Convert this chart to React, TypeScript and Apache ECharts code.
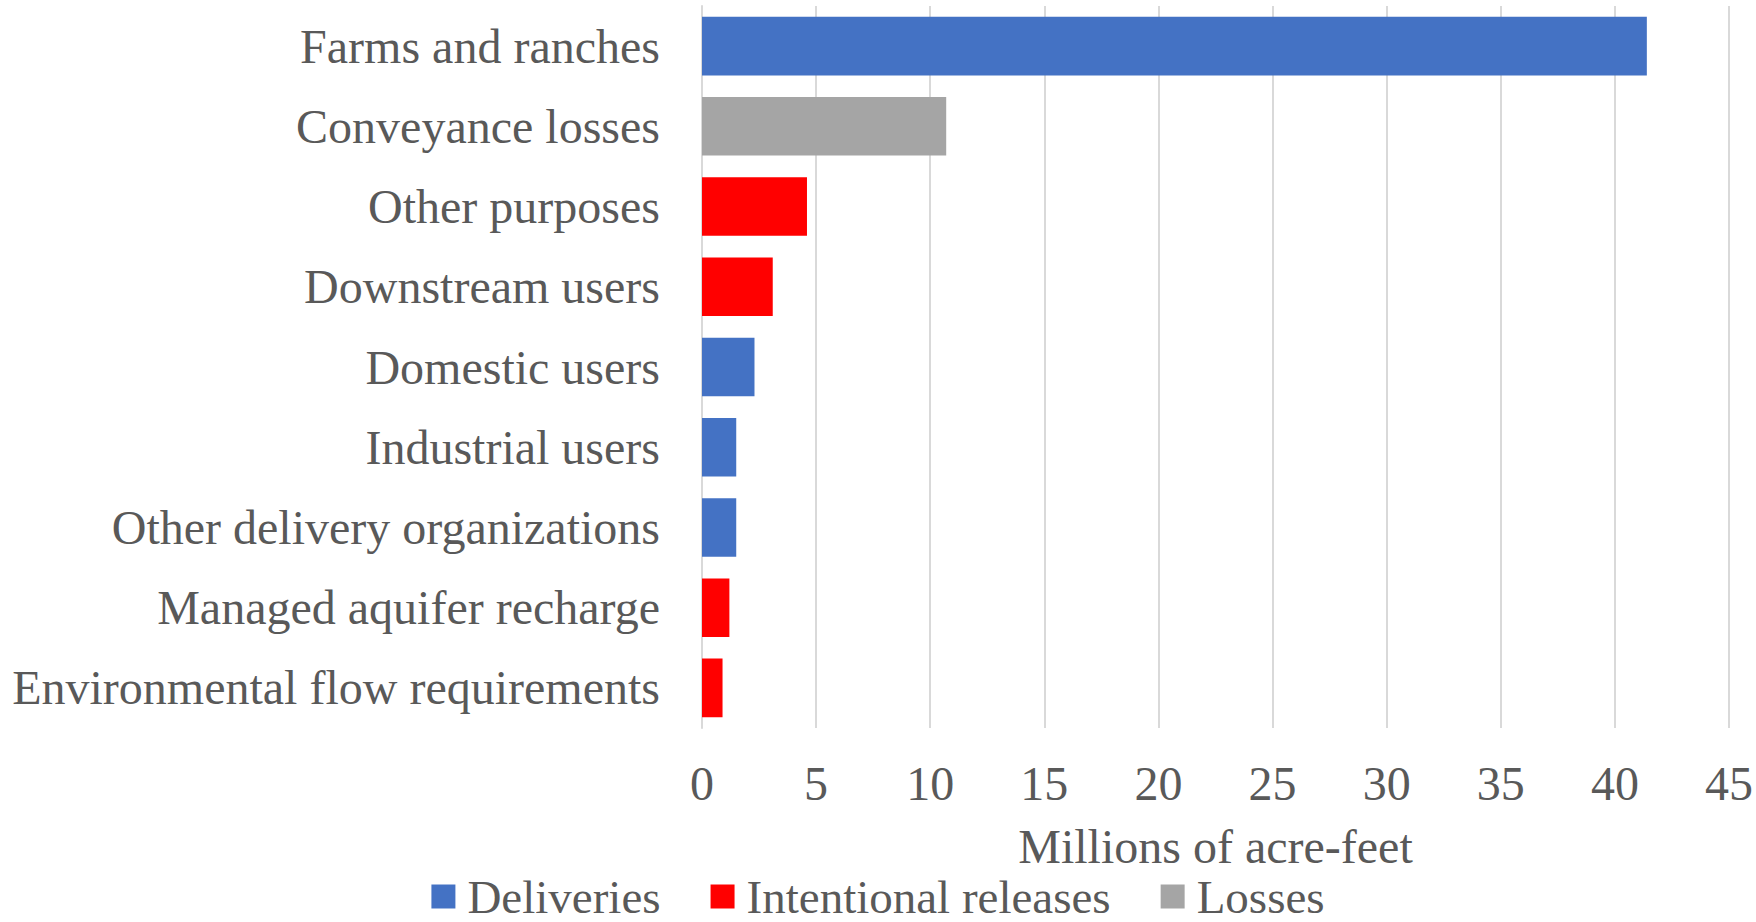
import React, { useEffect, useRef } from "react";
import * as echarts from "echarts";

const categories = [
  "Farms and ranches",
  "Conveyance losses",
  "Other purposes",
  "Downstream users",
  "Domestic users",
  "Industrial users",
  "Other delivery organizations",
  "Managed aquifer recharge",
  "Environmental flow requirements",
];

const seriesNames = ["Deliveries", "Intentional releases", "Losses"];

// value per category, "-" where the category belongs to another series
const deliveries = [41.4, "-", "-", "-", 2.3, 1.5, 1.5, "-", "-"];
const intentionalReleases = ["-", "-", 4.6, 3.1, "-", "-", "-", 1.2, 0.9];
const losses = ["-", 10.7, "-", "-", "-", "-", "-", "-", "-"];

const xTicks = { min: 0, max: 45, interval: 5 };

const colors = ["#4472C4", "#FF0000", "#A5A5A5"];

export default function App() {
  const ref = useRef<HTMLDivElement>(null);

  useEffect(() => {
    document.body.style.margin = "0";
    if (!ref.current) return;
    const chart = echarts.init(ref.current, undefined, { renderer: "svg" });
    const font = "'Liberation Serif', 'Times New Roman', serif";
    const dataSets = [deliveries, intentionalReleases, losses];
    chart.setOption({
      animation: false,
      backgroundColor: "#ffffff",
      textStyle: { fontFamily: font },
      grid: { left: 702, right: 26, top: 6, bottom: 194, containLabel: false },
      legend: {
        data: seriesNames,
        left: "center",
        top: 868,
        itemWidth: 24,
        itemHeight: 24,
        itemGap: 50,
        icon: "rect",
        textStyle: {
          fontFamily: font,
          fontSize: 47,
          lineHeight: 40,
          color: "#595959",
          padding: [0, 0, 0, 7],
        },
      },
      xAxis: {
        type: "value",
        min: xTicks.min,
        max: xTicks.max,
        interval: xTicks.interval,
        name: "Millions of acre-feet",
        nameLocation: "middle",
        nameGap: 94,
        nameTextStyle: { fontFamily: font, fontSize: 48, color: "#595959" },
        axisLine: { show: false },
        axisTick: { show: false },
        axisLabel: { fontFamily: font, fontSize: 48, color: "#595959", margin: 31 },
        splitLine: { show: true, lineStyle: { color: "#D9D9D9", width: 2 } },
      },
      yAxis: {
        type: "category",
        data: categories,
        inverse: true,
        axisLine: { show: true, lineStyle: { color: "#D9D9D9", width: 2 } },
        axisTick: { show: false },
        axisLabel: { fontFamily: font, fontSize: 48, color: "#595959", margin: 42 },
        splitLine: { show: false },
      },
      series: seriesNames.map((name, i) => ({
        name,
        type: "bar",
        stack: "total",
        data: dataSets[i],
        barCategoryGap: "27%",
        itemStyle: { color: colors[i] },
      })),
    });
    return () => chart.dispose();
  }, []);

  return <div ref={ref} style={{ width: 1756, height: 922 }} />;
}
